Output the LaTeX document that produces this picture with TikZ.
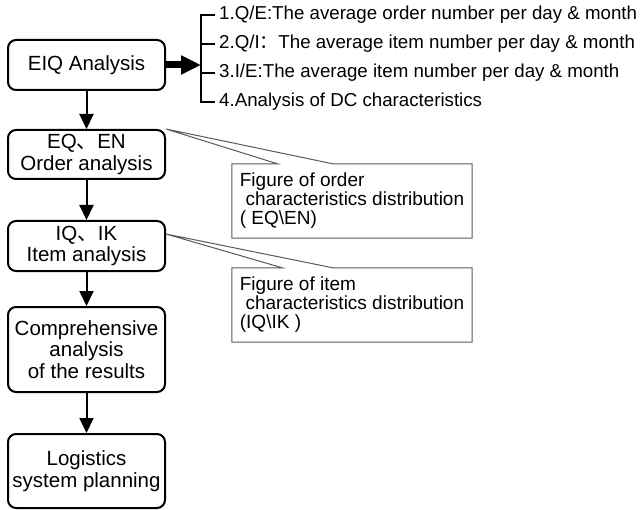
\documentclass[tikz,border=0pt]{standalone}
\usepackage{fontspec}
\setmainfont{Liberation Sans}
\newfontfamily\cjk{Noto Sans CJK SC}
\usetikzlibrary{arrows.meta,calc}

\tikzset{
  stage/.style={draw, line width=2pt, rounded corners=8pt, minimum width=157pt,
    align=center, inner sep=2pt, font=\fontsize{20.5}{21.5}\selectfont},
  flow/.style={line width=2pt, -{Triangle[length=15pt,width=14pt]}},
  bigflow/.style={line width=7pt, -{Triangle[length=20pt,width=18pt]}},
  listitem/.style={anchor=west, inner sep=0pt, font=\fontsize{18.7}{19}\selectfont},
  bracket/.style={line width=2pt},
  note/.style={minimum width=240pt, minimum height=74pt, inner sep=4pt,
    align=left, font=\fontsize{19}{19}\selectfont},
  noteline/.style={draw=black!65, line width=1pt, line join=miter}
}

\begin{document}
\begin{tikzpicture}[x=1pt,y=-1pt]
\useasboundingbox (0,0) rectangle (644,510);

% Main flow
\node[stage, minimum height=50pt] (eiq) at (86.5,65) {EIQ Analysis};
\node[stage, minimum height=49pt] (order) at (86.5,154.5) {EQ{\cjk 、}EN\\Order analysis};
\node[stage, minimum height=50pt] (item) at (86.5,246) {IQ{\cjk 、}IK\\Item analysis};
\node[stage, minimum height=85pt] (comp) at (86.5,349.5) {Comprehensive\\analysis\\of the results};
\node[stage, minimum height=74pt] (plan) at (86.5,471) {Logistics\\system planning};

\draw[flow] (eiq) -- (order);
\draw[flow] (order) -- (item);
\draw[flow] (item) -- (comp);
\draw[flow] (comp) -- (plan);

% EIQ indicators
\node[listitem] (l1) at (219,15) {1.Q/E:The average order number per day \& month};
\node[listitem] (l2) at (219,44) {2.Q/I{\cjk ：}The average item number per day \& month};
\node[listitem] (l3) at (219,73) {3.I/E:The average item number per day \& month};
\node[listitem] (l4) at (219,102) {4.Analysis of DC characteristics};
\coordinate (brk) at (201,65);

\draw[bracket] ([xshift=-4pt]l1.west) -| ([xshift=-18pt]l4.west) -- ([xshift=-4pt]l4.west);
\foreach \k in {2,3}
  \draw[bracket] ([xshift=-18pt]l\k.west) -- ([xshift=-4pt]l\k.west);
\draw[bigflow] (eiq.east) -- (eiq.east -| brk);

% Callouts
\node[note] (ordnote) at (352,201) {Figure of order\\\hspace*{0.3em}characteristics distribution\\( EQ\textbackslash EN)};
\draw[noteline] (ordnote.north west) -- ($(ordnote.north west)!0.19!(ordnote.north east)$)
  -- (order.north east) -- ($(ordnote.north west)!0.42!(ordnote.north east)$)
  -- (ordnote.north east) -- (ordnote.south east) -- (ordnote.south west) -- cycle;

\node[note] (itemnote) at (352,305) {Figure of item\\\hspace*{0.3em}characteristics distribution\\(IQ\textbackslash IK )};
\draw[noteline] (itemnote.north west) -- ($(itemnote.north west)!0.21!(itemnote.north east)$)
  -- ($(item.north east)+(0,14)$) -- ($(itemnote.north west)!0.42!(itemnote.north east)$)
  -- (itemnote.north east) -- (itemnote.south east) -- (itemnote.south west) -- cycle;
\end{tikzpicture}
\end{document}
